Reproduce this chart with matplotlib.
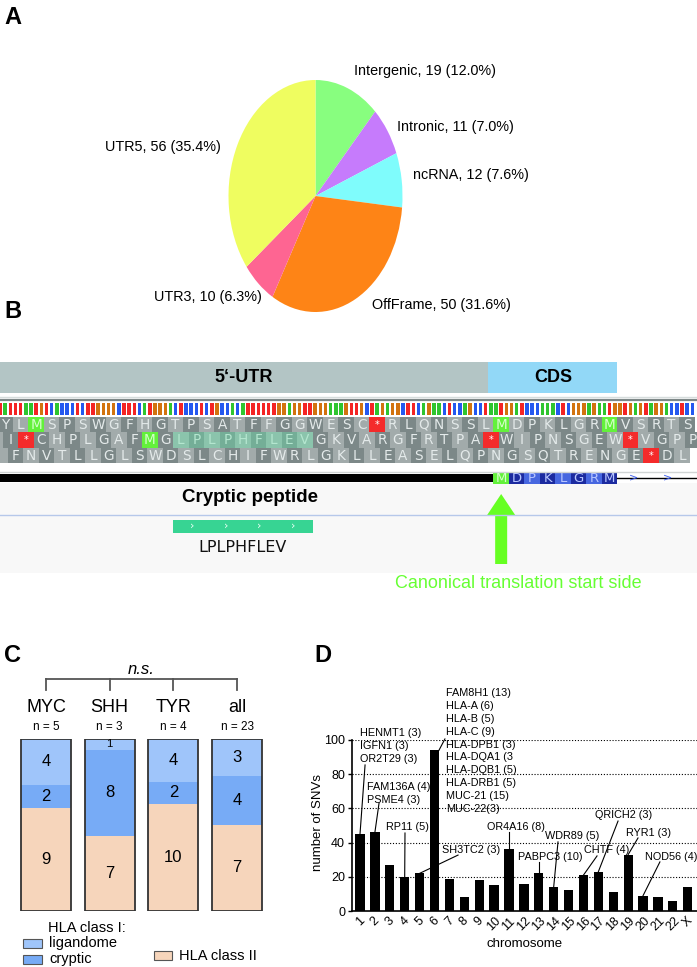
import matplotlib
matplotlib.use('Agg')
import matplotlib.pyplot as plt
from matplotlib.patches import Rectangle, Polygon
import numpy as np

W, H = 697, 967

# ---------------- data ----------------
pie_names = ['Intergenic', 'Intronic', 'ncRNA', 'OffFrame', 'UTR3', 'UTR5']
pie_counts = [19, 11, 12, 50, 10, 56]

region_names = ["5\u2018-UTR", "CDS"]
nt_seq = ("TATTTAATGTCACCCTCTTGGGGCTTTCATGGGACTCCCTCTGCCACATT"
          "TTTTGGAGGTTGGGAAAGTTGCTAGAGGCTTCAGAACTCCAGCCTAATGG"
          "ATCCCAAACTCGGGAGAATGGTGAGTAGGACCTCC")
frame1 = "YLMSPSWGFHGTPSATFFGGWESC*RLQNSSLMDPKLGRMVSRTS"
frame2 = "I*CHPLGAFMGLPLPHFLEVGKVARGFRTPA*WIPNSGEW*VGPP"
frame3 = "FNVTLLGLSWDSLCHIFWRLGKLLEASELQPNGSQTRENGE*DL"
cryptic_peptide = "LPLPHFLEV"
canonical_peptide = "MDPKLGRM"

groups = ['MYC', 'SHH', 'TYR', 'all']
group_n = [5, 3, 4, 23]
ligandome = [4, 1, 4, 3]
cryptic = [2, 8, 2, 4]
class2 = [9, 7, 10, 7]

chroms = [str(i) for i in range(1, 23)] + ['X']
snvs = [45, 46, 27, 20, 22, 94, 19, 8, 18, 15, 36, 16, 22, 14, 12, 21, 23, 11, 33, 9, 8, 6, 14]

gene_chrom = ['1', '2', '6', '4', '5', '11', '13', '14', '16', '17', '19', '20']
gene_labels = [
    ['HENMT1 (3)', 'IGFN1 (3)', 'OR2T29 (3)'],
    ['FAM136A (4)', 'PSME4 (3)'],
    ['FAM8H1 (13)', 'HLA-A (6)', 'HLA-B (5)', 'HLA-C (9)', 'HLA-DPB1 (3)',
     'HLA-DQA1 (3', 'HLA-DQB1 (5)', 'HLA-DRB1 (5)', 'MUC-21 (15)', 'MUC-22(3)'],
    ['RP11 (5)'], ['SH3TC2 (3)'], ['OR4A16 (8)'], ['PABPC3 (10)'], ['WDR89 (5)'],
    ['CHTF (4)'], ['QRICH2 (3)'], ['RYR1 (3)'], ['NOD56 (4)'],
]

# ---------------- style / layout ----------------
pie_colors = ['#88fe7f', '#c67bfc', '#7ffcfc', '#fe8416', '#fe6592', '#effd60']
nt_colors = {'A': '#2fc52f', 'C': '#2458f0', 'G': '#d2730f', 'T': '#f42424'}
C_LIG, C_CRY, C_II = '#9fc5fa', '#77abf6', '#f6d5bb'

SANS = 'Liberation Sans'
plt.rcParams['font.family'] = [SANS, 'DejaVu Sans']

fig = plt.figure(figsize=(6.97, 9.67), dpi=100)
ov = fig.add_axes([0, 0, 1, 1], zorder=5)
ov.set_xlim(0, W)
ov.set_ylim(H, 0)
ov.axis('off')
ov.patch.set_visible(False)


def fx(px):
    return px / W


def fy(py):
    return 1 - py / H


# panel letters
for lab, (px, py) in zip('ABCD', [(4, 18), (4, 312), (4, 655), (314, 655)]):
    ov.text(px, py, lab, fontsize=17, fontweight='bold', va='center', ha='left')

# ---------------- Panel A: pie ----------------
cx, cy, rx, ry = 315.5, 196, 87, 116
axp = fig.add_axes([fx(cx - 1.25 * rx), fy(cy + 1.25 * ry), 2.5 * rx / W, 2.5 * ry / H])
axp.pie(pie_counts, colors=pie_colors, startangle=90, counterclock=False, radius=1,
        wedgeprops=dict(linewidth=0))
axp.set_aspect('auto')
axp.set_xlim(-1.25, 1.25)
axp.set_ylim(-1.25, 1.25)
total = sum(pie_counts)
pie_label_pos = [(354, 71, 'left'), (397, 127, 'left'), (413, 175, 'left'),
                 (372, 305, 'left'), (262, 297, 'right'), (221, 147, 'right')]
for name, c, (px, py, ha) in zip(pie_names, pie_counts, pie_label_pos):
    ov.text(px, py, f"{name}, {c} ({100 * c / total:.1f}%)", fontsize=10.4,
            ha=ha, va='center')

# ---------------- Panel B: genome browser ----------------
w = 15.5 / 3.0


def ntx(n):
    return w * n


cds_start = frame1.find(canonical_peptide) * 3  # nt index of canonical ATG
utr_end = cds_start - 1.5
cds_end = cds_start + 3 * len(canonical_peptide) - 0.5
ov.add_patch(Rectangle((0, 362), ntx(utr_end), 31, color='#b3c5c5', lw=0))
ov.add_patch(Rectangle((ntx(utr_end), 362), ntx(cds_end) - ntx(utr_end), 31, color='#92d8f7', lw=0))
ov.text(ntx(utr_end) / 2, 378, region_names[0], fontsize=13,
        fontweight='bold', ha='center', va='center')
ov.text((ntx(utr_end) + ntx(cds_end)) / 2, 378, region_names[1], fontsize=13,
        fontweight='bold', ha='center', va='center')
ov.plot([0, W], [396.5, 396.5], color='#d6dcdc', lw=1)
ov.plot([0, W], [400, 400], color='#7d8787', lw=1.6)

for n, b in enumerate(nt_seq):
    ov.add_patch(Rectangle((ntx(n) - 1.75, 402.5), 3.5, 12.5, color=nt_colors[b], lw=0))

row_tops = [416.5, 432.0, 447.5]
row_h = 15.5
crypt_j0 = frame2.find(cryptic_peptide)
for f, (pep, top) in enumerate(zip([frame1, frame2, frame3], row_tops)):
    codons = list(enumerate(pep))
    if f > 0:
        codons = [(-1, '')] + codons
    for c, aa in codons:
        x0 = ntx(f + 3 * c) - w / 2
        tcol = '#e4eaea'
        if aa == 'M':
            col, tcol = '#63f13b', '#d6ffcc'
        elif aa == '*':
            col, tcol = '#f42b2b', '#ffffff'
        elif f == 1 and crypt_j0 <= c < crypt_j0 + len(cryptic_peptide):
            col = '#74ae97' if c % 2 == 0 else '#8bc4ac'
            tcol = '#b4e6cf'
        else:
            col = '#7c8888' if c % 2 == 0 else '#a2abab'
        ov.add_patch(Rectangle((x0, top), 3 * w, row_h, color=col, lw=0))
        if aa:
            ov.text(x0 + 1.5 * w, top + row_h / 2 + 0.5, aa, fontsize=9.8 if aa != '*' else 7,
                    family='DejaVu Sans', color=tcol, ha='center', va='center', clip_on=True)

ov.add_patch(Rectangle((0, 483), W, 90, color='#f8f8f8', lw=0, zorder=0))
ov.plot([0, W], [471.5, 471.5], color='#d0d4d4', lw=1)
ov.add_patch(Rectangle((0, 473.5), ntx(cds_start - 0.5), 8.5, color='black', lw=0))
for k, aa in enumerate(canonical_peptide):
    x0 = ntx(cds_start + 3 * k) - w / 2
    if k == 0:
        col, tcol = '#63f13b', '#d6ffcc'
    else:
        col = '#1c2ba0' if k % 2 == 1 else '#4767e0'
        tcol = '#b8c6ff'
    ov.add_patch(Rectangle((x0, 472.5), 3 * w, 11, color=col, lw=0))
    ov.text(x0 + 1.5 * w, 478.5, aa, fontsize=9.5, family='DejaVu Sans', color=tcol,
            ha='center', va='center')
ov.plot([ntx(cds_end), W], [478, 478], color='black', lw=1)
for px in [633, 667]:
    ov.text(px, 477.5, '>', color='#3a5cf0', fontsize=8, ha='center', va='center', family='DejaVu Sans')

ov.plot([0, W], [515, 515], color='#b6c8ea', lw=1)
ov.text(250, 498, 'Cryptic peptide', fontsize=13.5, fontweight='bold',
        ha='center', va='center')
gx0 = ntx(1 + 3 * crypt_j0) - w / 2
gx1 = ntx(1 + 3 * (crypt_j0 + len(cryptic_peptide)) - 1) + w / 2
ov.add_patch(Rectangle((gx0, 520), gx1 - gx0, 12.5, color='#37d493', lw=0))
for t in np.linspace(0.14, 0.86, 4):
    ov.text(gx0 + t * (gx1 - gx0), 526, '\u203a', color='#e8fff4', fontsize=8,
            ha='center', va='center', family='DejaVu Sans')
ov.text((gx0 + gx1) / 2, 547, cryptic_peptide, fontsize=11.5, family='DejaVu Sans',
        ha='center', va='center', color='#111111')

ax_x = ntx(cds_start + 1)
ov.add_patch(Polygon([(ax_x - 6, 564), (ax_x + 6, 564), (ax_x + 6, 515), (ax_x + 14, 515),
                      (ax_x, 494), (ax_x - 14, 515), (ax_x - 6, 515)],
                     closed=True, color='#66ff22', lw=0))
ov.text(395, 584, 'Canonical translation start side', fontsize=13,
        color='#66ff33', ha='left', va='center')

# ---------------- Panel C: stacked bars ----------------
sp = 63.7
axc = fig.add_axes([0, fy(911), 300 / W, 172 / H])
axc.set_xlim(-46 / sp, (300 - 46) / sp)
axc.set_ylim(0, 1)
axc.axis('off')
xs = np.arange(len(groups))
tot = np.array(ligandome) + np.array(cryptic) + np.array(class2)
f2 = np.array(class2) / tot
fc = np.array(cryptic) / tot
fl = np.array(ligandome) / tot
bw = 50 / sp
axc.bar(xs, f2, width=bw, color=C_II, lw=0)
axc.bar(xs, fc, bottom=f2, width=bw, color=C_CRY, lw=0)
axc.bar(xs, fl, bottom=f2 + fc, width=bw, color=C_LIG, lw=0)
axc.bar(xs, np.ones(len(xs)), width=bw, fill=False, edgecolor='#333333', lw=1.3)
for i in xs:
    axc.text(i, f2[i] / 2, str(class2[i]), ha='center', va='center', fontsize=12)
    axc.text(i, f2[i] + fc[i] / 2, str(cryptic[i]), ha='center', va='center', fontsize=12)
    fsz = 12 if ligandome[i] > 1 else 8
    axc.text(i, f2[i] + fc[i] + fl[i] / 2, str(ligandome[i]), ha='center', va='center', fontsize=fsz)
    axc.text(i, (911 - 708) / 172, groups[i], ha='center', va='center', fontsize=13, clip_on=False)
    axc.text(i, (911 - 727) / 172, f"n = {group_n[i]}", ha='center', va='center', fontsize=8.5, clip_on=False)
yb, yt = (911 - 679) / 172, (911 - 690) / 172
axc.plot([xs[0], xs[-1]], [yb, yb], color='#555555', lw=1.3, clip_on=False)
for i in xs:
    axc.plot([i, i], [yb, yt], color='#555555', lw=1.3, clip_on=False)
axc.text(1.5, (911 - 669) / 172, 'n.s.', style='italic', ha='center', va='center', fontsize=12, clip_on=False)

# legend C
ov.text(48, 928, 'HLA class I:', fontsize=10.5, va='center')
ov.add_patch(Rectangle((23, 939), 19, 9, facecolor=C_LIG, edgecolor='#555555', lw=0.8))
ov.text(49, 943.5, 'ligandome', fontsize=10.5, va='center')
ov.add_patch(Rectangle((23, 955), 19, 9, facecolor=C_CRY, edgecolor='#555555', lw=0.8))
ov.text(49, 959.5, 'cryptic', fontsize=10.5, va='center')
ov.add_patch(Rectangle((154, 951), 18, 9, facecolor=C_II, edgecolor='#555555', lw=0.8))
ov.text(179, 955.5, 'HLA class II', fontsize=10.5, va='center')

# ---------------- Panel D: SNV bars ----------------
axd = fig.add_axes([fx(352), fy(911), 345 / W, 171 / H])
xd = np.arange(len(chroms))
axd.bar(xd, snvs, width=0.62, color='black', zorder=3)
axd.set_xlim(-0.537, 22.62)
axd.set_ylim(0, 100)
for yv in [20, 40, 60, 80, 100]:
    axd.axhline(yv, color='black', ls=(0, (1, 1.6)), lw=0.8, zorder=1)
for s in ['top', 'right']:
    axd.spines[s].set_visible(False)
for s in ['left', 'bottom']:
    axd.spines[s].set_linewidth(1.2)
axd.set_yticks([0, 20, 40, 60, 80, 100])
axd.tick_params(axis='y', length=3, width=1, labelsize=9, pad=2)
axd.set_xticks(xd)
axd.set_xticklabels(chroms, rotation=45, fontsize=9, ha='center')
axd.tick_params(axis='x', length=0, pad=3)
axd.set_ylabel('number of SNVs', fontsize=9.5)
axd.yaxis.set_label_coords(-0.08, 0.515)
axd.set_xlabel('chromosome', fontsize=9.5, labelpad=3)
axd.patch.set_visible(False)

# annotation layout (text anchor in data units, leader line start)
ann_text = [(0.0, 104.1), (0.47, 72.5), (5.77, 127.5), (3.16, 49.1), (5.5, 35.7), (8.52, 49.1),
            (10.6, 31.6), (12.42, 43.9), (15.03, 35.7), (15.77, 56.1), (17.85, 45.6), (19.13, 31.6)]
ann_line = [(0.34, 85.4), (1.28, 63.2), (5.7, 100.6), (3.02, 45.6), (6.58, 32.7), (10.0, 46.2),
            (12.0, 28.6), (13.29, 40.4), (15.91, 32.2), (17.32, 52.6), (18.66, 42.7), (20.13, 28.7)]
line_step = 12.9 / 1.71
for ch, labs, (tx, ty), (lx, ly) in zip(gene_chrom, gene_labels, ann_text, ann_line):
    i = chroms.index(ch)
    ex = i + (0.3 if len(labs) > 5 else 0)
    axd.plot([lx, ex], [ly, snvs[i]], color='black', lw=0.8, zorder=4, clip_on=False)
    ha = 'center' if ch == '4' else 'left'
    for k, lab in enumerate(labs):
        axd.text(tx, ty - k * line_step, lab, fontsize=7.8, ha=ha, va='center', zorder=5, clip_on=False)

fig.savefig('out.png', dpi=100)
